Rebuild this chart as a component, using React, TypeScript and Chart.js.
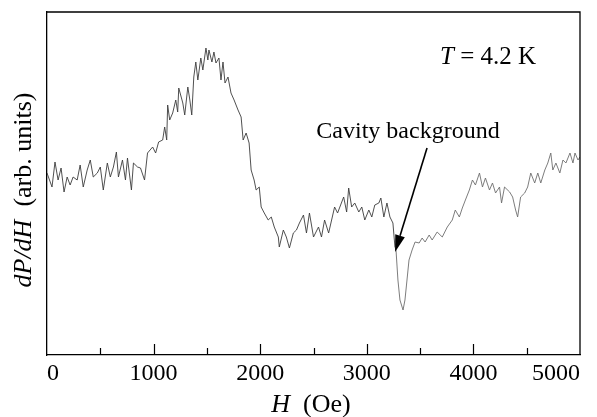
import React, { useEffect, useRef } from "react";
import { Chart, registerables } from "chart.js";

Chart.register(...registerables);

// Magnetic field H (Oe)
const fieldH: number[] = [
  0, 47, 75, 104, 132, 160, 189, 217, 245, 283, 311, 340, 377, 406, 434, 472, 500, 528, 566, 594,
  623, 651, 670, 708, 736, 755, 792, 811, 849, 877, 915, 943, 991, 1019, 1047, 1085, 1104, 1123, 1132, 1151,
  1179, 1208, 1226, 1236, 1274, 1292, 1321, 1340, 1358, 1377, 1396, 1415, 1443, 1462, 1491, 1509, 1519, 1547, 1566, 1585,
  1613, 1632, 1651, 1670, 1698, 1726, 1755, 1792, 1821, 1840, 1868, 1896, 1915, 1943, 1962, 1991, 2009, 2038, 2075, 2104,
  2132, 2170, 2179, 2217, 2245, 2274, 2311, 2340, 2368, 2406, 2434, 2462, 2500, 2547, 2575, 2604, 2642, 2670, 2698, 2726,
  2783, 2811, 2830, 2858, 2887, 2925, 2953, 2981, 3019, 3047, 3075, 3113, 3132, 3160, 3189, 3217, 3245, 3264, 3274, 3292,
  3311, 3340, 3358, 3377, 3396, 3425, 3453, 3491, 3519, 3547, 3585, 3613, 3660, 3708, 3755, 3802, 3830, 3868, 3896, 3925,
  3962, 3991, 4019, 4057, 4085, 4113, 4151, 4179, 4208, 4245, 4264, 4292, 4340, 4368, 4396, 4415, 4443, 4481, 4509, 4538,
  4575, 4604, 4632, 4670, 4698, 4726, 4745, 4774, 4811, 4840, 4868, 4906, 4934, 4953, 4981, 5000,
];

// dP/dH signal (arb. units)
const signal: number[] = [
  177, 163, 188, 170, 182, 158, 173, 165, 173, 170, 185, 163, 180, 190, 173, 177, 183, 160, 187, 173,
  183, 198, 173, 190, 170, 192, 160, 187, 183, 182, 170, 197, 203, 197, 208, 210, 223, 210, 245, 230,
  237, 250, 238, 262, 247, 235, 263, 250, 235, 273, 288, 270, 292, 280, 302, 290, 300, 288, 298, 287,
  292, 270, 288, 267, 273, 257, 250, 240, 233, 210, 217, 207, 180, 170, 160, 163, 143, 137, 130, 133,
  123, 113, 103, 120, 113, 102, 117, 120, 127, 135, 117, 137, 113, 123, 113, 130, 117, 130, 143, 137,
  153, 138, 162, 143, 147, 138, 143, 130, 140, 133, 145, 147, 152, 133, 147, 133, 127, 103, 100, 70,
  50, 40, 50, 70, 90, 100, 108, 107, 112, 108, 115, 110, 118, 113, 123, 130, 140, 133, 142, 150,
  160, 170, 165, 177, 163, 172, 160, 167, 157, 163, 147, 163, 158, 153, 140, 133, 153, 157, 163, 177,
  167, 177, 167, 180, 187, 197, 180, 187, 177, 190, 187, 197, 187, 197, 190, 193,
];

const xTickLabels: string[] = ["0", "1000", "2000", "3000", "4000", "5000"];
const minorTicks: number[] = [500, 1500, 2500, 3500, 4500];
const majorTicks: number[] = [1000, 2000, 3000, 4000];

const SERIF = "'Liberation Serif', 'Times New Roman', serif";

function drawMixed(ctx: CanvasRenderingContext2D, parts: { t: string; italic: boolean }[], cx: number, cy: number, size: number) {
  const fonts = parts.map((p) => `${p.italic ? "italic " : ""}${size}px ${SERIF}`);
  let total = 0;
  const widths = parts.map((p, i) => {
    ctx.font = fonts[i];
    const w = ctx.measureText(p.t).width;
    total += w;
    return w;
  });
  let x = cx - total / 2;
  ctx.textBaseline = "alphabetic";
  ctx.textAlign = "left";
  parts.forEach((p, i) => {
    ctx.font = fonts[i];
    ctx.fillText(p.t, x, cy);
    x += widths[i];
  });
}

const decorPlugin = {
  id: "decor",
  afterDraw(chart: any) {
    const ctx: CanvasRenderingContext2D = chart.ctx;
    const { left, right, top, bottom } = chart.chartArea;
    const xs = chart.scales.x;
    const ys = chart.scales.y;
    ctx.save();
    ctx.strokeStyle = "#000";
    ctx.lineWidth = 1.3;
    ctx.beginPath();
    ctx.moveTo(left, top);
    ctx.lineTo(right, top);
    ctx.lineTo(right, bottom);
    ctx.stroke();

    ctx.lineWidth = 1.2;
    ctx.beginPath();
    majorTicks.forEach((v) => {
      const px = Math.round(xs.getPixelForValue(v)) + 0.5;
      ctx.moveTo(px, bottom);
      ctx.lineTo(px, bottom - 11);
    });
    minorTicks.forEach((v) => {
      const px = Math.round(xs.getPixelForValue(v)) + 0.5;
      ctx.moveTo(px, bottom);
      ctx.lineTo(px, bottom - 7);
    });
    ctx.stroke();

    ctx.fillStyle = "#000";
    // x title
    drawMixed(ctx, [{ t: "H", italic: true }, { t: "  (Oe)", italic: false }], 311, 412, 26);
    // y title
    ctx.save();
    ctx.translate(31, 190);
    ctx.rotate(-Math.PI / 2);
    drawMixed(ctx, [{ t: "dP/dH", italic: true }, { t: "  (arb. units)", italic: false }], 0, 0, 26);
    ctx.restore();

    // T = 4.2 K
    drawMixed(ctx, [{ t: "T", italic: true }, { t: " = 4.2 K", italic: false }], 488, 64, 25);

    // Cavity background annotation
    ctx.font = `24px ${SERIF}`;
    ctx.textAlign = "center";
    ctx.textBaseline = "alphabetic";
    ctx.fillText("Cavity background", 408, 138);

    const x0 = xs.getPixelForValue(3565);
    const y0 = ys.getPixelForValue(202);
    const x1 = xs.getPixelForValue(3265);
    const y1 = ys.getPixelForValue(98);
    const ang = Math.atan2(y1 - y0, x1 - x0);
    const headLen = 17;
    const headW = 5;
    const bx = x1 - headLen * Math.cos(ang);
    const by = y1 - headLen * Math.sin(ang);
    ctx.lineWidth = 1.6;
    ctx.beginPath();
    ctx.moveTo(x0, y0);
    ctx.lineTo(bx, by);
    ctx.stroke();
    ctx.beginPath();
    ctx.moveTo(x1, y1);
    ctx.lineTo(bx + headW * Math.sin(ang), by - headW * Math.cos(ang));
    ctx.lineTo(bx - headW * Math.sin(ang), by + headW * Math.cos(ang));
    ctx.closePath();
    ctx.fill();
    ctx.restore();
  },
};

export default function App() {
  const canvasRef = useRef<HTMLCanvasElement | null>(null);

  useEffect(() => {
    document.body.style.margin = "0";
    const canvas = canvasRef.current;
    if (!canvas) return;
    const points = fieldH.map((h, i) => ({ x: h, y: signal[i] }));
    const chart = new Chart(canvas, {
      type: "line",
      data: {
        datasets: [
          {
            data: points,
            borderColor: "#3c3c3c",
            borderWidth: 0.9,
            pointRadius: 0,
            tension: 0,
            fill: false,
            segment: {
              borderColor: (c: any) => (c.p0.parsed.x >= 3250 ? "#6e6e6e" : "#3c3c3c"),
            },
          },
        ],
      },
      options: {
        animation: false,
        responsive: false,
        devicePixelRatio: 1,
        layout: { padding: { top: 12, right: 17, left: 0, bottom: 0 }, autoPadding: false } as any,
        plugins: { legend: { display: false }, tooltip: { enabled: false } },
        scales: {
          x: {
            type: "linear",
            min: 0,
            max: 5000,
            grid: { display: false, drawTicks: false },
            border: { display: true, color: "#000", width: 1.3 },
            ticks: {
              stepSize: 1000,
              color: "#000",
              align: "inner",
              padding: 4,
              maxRotation: 0,
              autoSkip: false,
              font: { family: SERIF, size: 24 },
              callback: (v: any) => {
                const idx = Math.round(Number(v) / 1000);
                return xTickLabels[idx] ?? "";
              },
            },
            afterFit: (s: any) => {
              s.height = 62;
            },
          },
          y: {
            type: "linear",
            min: -5,
            max: 338,
            grid: { display: false, drawTicks: false },
            border: { display: true, color: "#000", width: 1.3 },
            ticks: { display: false },
            afterFit: (s: any) => {
              s.width = 47;
            },
          },
        },
      },
      plugins: [decorPlugin],
    });
    return () => chart.destroy();
  }, []);

  return (
    <div style={{ position: "absolute", left: 0, top: 0, width: 597, height: 417, background: "#fff" }}>
      <canvas ref={canvasRef} width={597} height={417} />
    </div>
  );
}
